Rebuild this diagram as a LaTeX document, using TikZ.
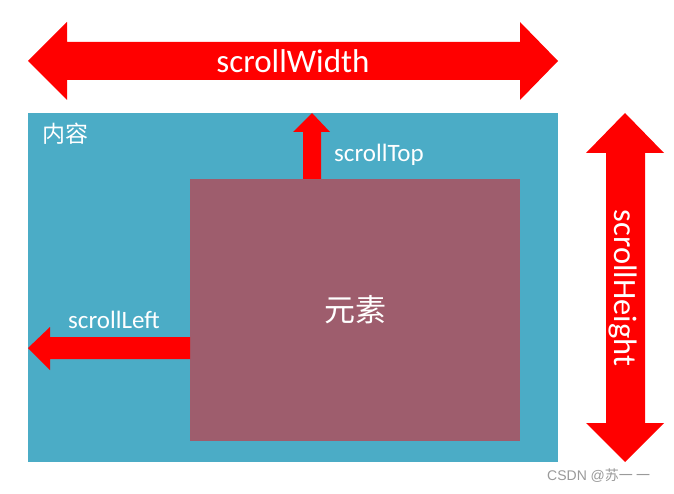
\documentclass[tikz,border=0pt]{standalone}
\usepackage{fontspec}
\setmainfont{Carlito}
\newfontfamily\cjk{Noto Sans CJK SC}
\newfontfamily\wmfont{Liberation Sans}
\definecolor{boxblue}{HTML}{4BACC6}
\definecolor{elemred}{HTML}{9E5D6D}
\definecolor{arrred}{HTML}{FF0000}
\definecolor{wmgray}{HTML}{9A9A9A}
\begin{document}
\begin{tikzpicture}[x=1pt,y=-1pt,
  arrowshape/.style={fill=arrred,draw=none},
  lbl/.style={text=white,inner sep=0pt,font=\fontsize{25}{25}\selectfont}]
\useasboundingbox (0,0) rectangle (674,494);
\fill[white] (0,0) rectangle (674,494);
% content box
\fill[boxblue] (28,113) rectangle (558,462);
\fill[elemred] (190,179) rectangle (520,441);
% top double arrow (scrollWidth)
\fill[arrowshape] (28,61) -- (67,22) -- (67,42) -- (520,42) -- (520,22) -- (558,61)
  -- (520,100) -- (520,80) -- (67,80) -- (67,100) -- cycle;
% right double arrow (scrollHeight)
\fill[arrowshape] (625,113) -- (664,153) -- (645,153) -- (645,423) -- (664,423) -- (625,462)
  -- (586,423) -- (606,423) -- (606,153) -- (586,153) -- cycle;
% up arrow (scrollTop)
\fill[arrowshape] (312,113) -- (330,132) -- (321,132) -- (321,179) -- (303,179) -- (303,132) -- (293,132) -- cycle;
% left arrow (scrollLeft)
\fill[arrowshape] (28,348) -- (50,327) -- (50,337) -- (190,337) -- (190,359) -- (50,359) -- (50,370) -- cycle;
% labels
\node[lbl,font=\fontsize{33}{33}\selectfont,anchor=base] (w) at (293,73) {scrollWidth};
\node[lbl,anchor=base west] (t) at (334,162) {scrollTop};
\node[lbl,anchor=base west] (l) at (68,328) {scrollLeft};
\node[lbl,font=\fontsize{32.5}{32.5}\selectfont,rotate=-90] (h) at (623,288) {scrollHeight};
\node[lbl,font=\cjk\fontsize{23}{23}\selectfont,anchor=west] (c) at (42,134) {内容};
\node[lbl,font=\cjk\fontsize{31}{31}\selectfont] (e) at (355,310) {元素};
\node[inner sep=0pt,anchor=base west,text=wmgray,font=\wmfont\fontsize{14}{14}\selectfont] (wm) at (547,480) {CSDN @{\cjk 苏一 一}};
\end{tikzpicture}
\end{document}
